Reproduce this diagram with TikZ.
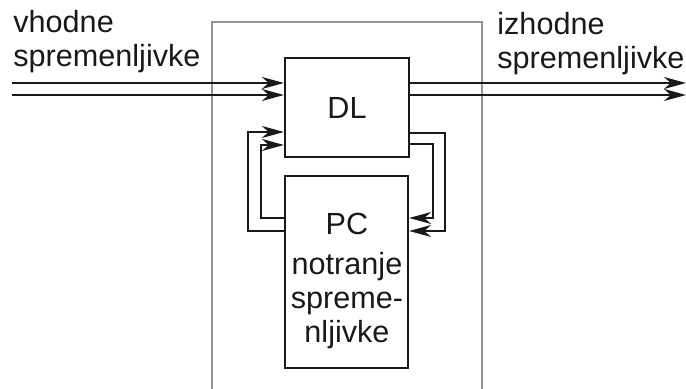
\documentclass[tikz,border=0pt]{standalone}
\usepackage{fontspec}
\setmainfont{Liberation Sans}
\usetikzlibrary{arrows.meta}
\begin{document}
\begin{tikzpicture}[x=0.5pt,y=-0.5pt,
  lbl/.style={inner sep=0pt,text=black!90,font=\fontsize{15.3}{17}\selectfont},
  blk/.style={draw=black!90,line width=1.1pt,inner sep=0pt},
  sig/.style={draw=black!90,line width=1pt,-{Stealth[length=11pt,width=6pt,inset=3.4pt]}},
  frame/.style={draw=black!42,line width=1pt}]
\useasboundingbox (0,0) rectangle (686,389);
% frame (open at bottom)
\draw[frame] (212,389) -- (212,22) -- (482,22) -- (482,389);
% blocks
\node[blk,minimum width=62pt,minimum height=49.5pt,lbl] (DL) at (347,107.5) {DL};
\node[blk,minimum width=61.5pt,minimum height=96pt] (PC) at (346.5,272) {};
% PC text
\node[lbl,anchor=base] (tPC) at (347,235) {PC};
\node[lbl,anchor=base] (t1) at (347,275) {notranje};
\node[lbl,anchor=base] (t2) at (347,309) {spreme-};
\node[lbl,anchor=base] (t3) at (347,343) {nljivke};
% labels
\node[lbl,anchor=base west] (v1) at (13,33) {vhodne};
\node[lbl,anchor=base west] (v2) at (13,67) {spremenljivke};
\node[lbl,anchor=base west] (i1) at (497,35) {izhodne};
\node[lbl,anchor=base west] (i2) at (497,69) {spremenljivke};
% free ends
\coordinate (in1) at (12,83);
\coordinate (in2) at (12,95);
\coordinate (out1) at (686,83);
\coordinate (out2) at (686,95);
% inputs
\draw[sig] (in1) -- (in1 -| DL.west);
\draw[sig] (in2) -- (in2 -| DL.west);
% outputs
\draw[sig] (out1 -| DL.east) -- (out1);
\draw[sig] (out2 -| DL.east) -- (out2);
% feedback left: PC -> DL
\coordinate (la) at (248,231);
\coordinate (lb) at (261,218);
\draw[sig] (la -| PC.west) -- (la) -- (248,132) -- (DL.west |- 0,132);
\draw[sig] (lb -| PC.west) -- (lb) -- (261,145) -- (DL.west |- 0,145);
% feedback right: DL -> PC
\coordinate (ra) at (445,133);
\coordinate (rb) at (433,144);
\draw[sig] (ra -| DL.east) -- (ra) -- (445,231) -- (PC.east |- 0,231);
\draw[sig] (rb -| DL.east) -- (rb) -- (433,218) -- (PC.east |- 0,218);
\end{tikzpicture}
\end{document}
